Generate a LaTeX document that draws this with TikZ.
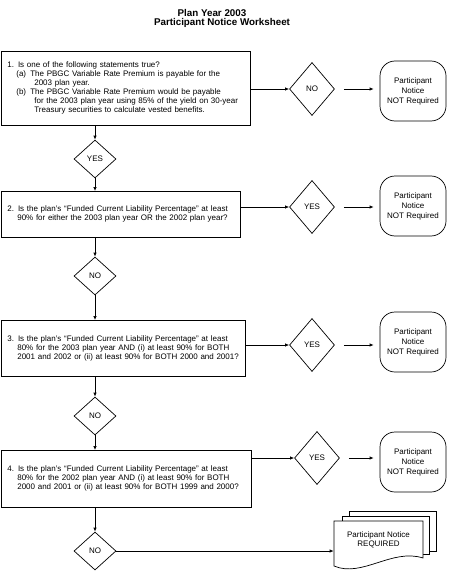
\documentclass[tikz,border=0pt]{standalone}
\usepackage{fontspec}
\setsansfont{Liberation Sans}
\usetikzlibrary{arrows.meta,shapes.geometric}

\begin{document}
\begin{tikzpicture}[x=1pt,y=-1pt,>={Latex[length=4pt,width=3.5pt]},font=\sffamily\fontsize{8}{9}\selectfont,line width=0.7pt,
  qbox/.style={draw,anchor=north west,align=left,inner xsep=6pt,inner ysep=0pt},
  dia/.style={draw,diamond,inner sep=0pt,minimum width=42pt,minimum height=38pt},
  bigdia/.style={draw,diamond,inner sep=0pt,minimum width=45pt,minimum height=53pt},
  term/.style={draw,rounded corners=15pt,minimum width=66pt,minimum height=60pt,align=center,font=\sffamily\fontsize{8}{10}\selectfont},
  ttl/.style={anchor=base,font=\sffamily\bfseries\fontsize{9.8}{11}\selectfont}]
\useasboundingbox (0,0) rectangle (450,586);
\node[ttl] (t1) at (212,17) {Plan Year 2003};
\node[ttl] (t2) at (222,26) {Participant Notice Worksheet};
% questions
\node[qbox,text width=237pt,minimum height=74pt] (q1) at (1,51) {1.\hspace{4pt}Is one of the following statements true?\\
\hspace*{9pt}\makebox[14pt][l]{(a)}The PBGC Variable Rate Premium is payable for the\\
\hspace*{27pt}2003 plan year.\\
\hspace*{9pt}\makebox[14pt][l]{(b)}The PBGC Variable Rate Premium would be payable\\
\hspace*{27pt}for the 2003 plan year using 85\% of the yield on 30-year\\
\hspace*{27pt}Treasury securities to calculate vested benefits.};
\node[qbox,text width=227pt,minimum height=46pt] (q2) at (1,191) {2.\hspace{4pt}Is the plan's “Funded Current Liability Percentage” at least\\
\hspace*{10pt}90\% for either the 2003 plan year OR the 2002 plan year?};
\node[qbox,text width=232pt,minimum height=56pt] (q3) at (1,320) {3.\hspace{4pt}Is the plan's “Funded Current Liability Percentage” at least\\
\hspace*{10pt}80\% for the 2003 plan year AND (i) at least 90\% for BOTH\\
\hspace*{10pt}2001 and 2002 or (ii) at least 90\% for BOTH 2000 and 2001?};
\node[qbox,text width=238pt,minimum height=57pt] (q4) at (1,450) {4.\hspace{4pt}Is the plan's “Funded Current Liability Percentage” at least\\
\hspace*{10pt}80\% for the 2002 plan year AND (i) at least 90\% for BOTH\\
\hspace*{10pt}2000 and 2001 or (ii) at least 90\% for BOTH 1999 and 2000?};
% answers down the middle
\node[dia] (y1) at (95,159) {YES};
\node[dia] (n2) at (95,276) {NO};
\node[dia] (n3) at (95,416) {NO};
\node[dia] (n4) at (95,551) {NO};
\foreach \a/\d/\b in {q1/y1/q2,q2/n2/q3,q3/n3/q4}{\draw[->] (\d.north |- \a.south) -- (\d.north); \draw[->] (\d.south) -- (\d.south |- \b.north);}
\draw[->] (n4.north |- q4.south) -- (n4.north);
% answers to the right
\foreach \i/\x/\y/\l/\ry in {1/312/89/NO/91,2/312/207/YES/206,3/312/345/YES/342,4/317/458/YES/462}{
  \node[bigdia] (d\i) at (\x,\y) {\l};
  \node[term] (r\i) at (413,\ry) {Participant\\Notice\\NOT Required};
  \draw[->] (d\i.west -| q\i.east) -- (d\i.west);
  \draw[->,shorten <=9pt,shorten >=6pt] (d\i.east) -- (d\i.east -| r\i.west);}
% notice required
\filldraw[fill=white] (349,511) rectangle (436,551);
\filldraw[fill=white] (342,516) rectangle (429,554);
\filldraw[fill=white] (334,521) -- (423,521) -- (423,558) .. controls (392,548) and (362,578) .. (334,566) -- cycle;
\node[align=center,minimum width=89pt] (req) at (378.5,540) {Participant Notice\\REQUIRED};
\draw[->] (n4.east) -- (n4.east -| req.west);
\end{tikzpicture}
\end{document}
